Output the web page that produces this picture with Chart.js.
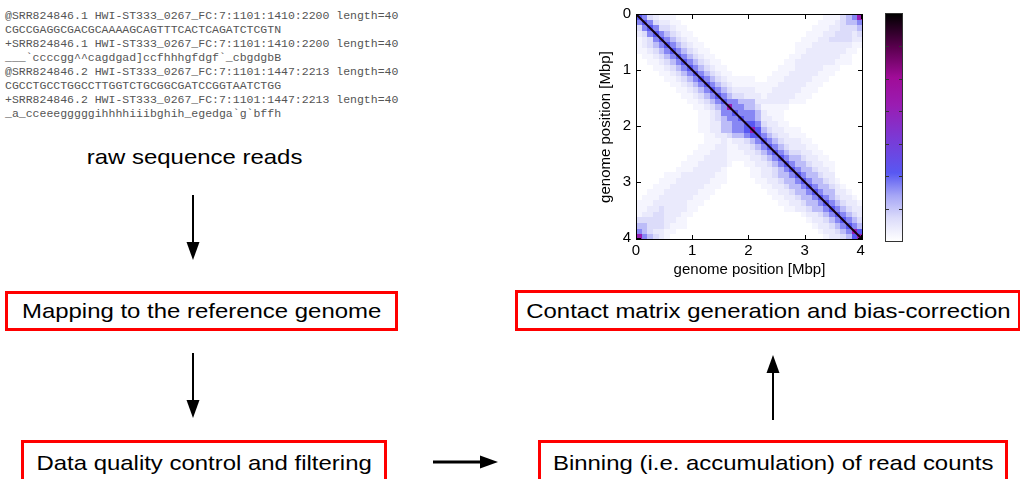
<!DOCTYPE html>
<html>
<head>
<meta charset="utf-8">
<script src="https://cdn.jsdelivr.net/npm/chart.js@4.4.1/dist/chart.umd.min.js"></script>
<style>
    html, body { margin: 0; padding: 0; background: #fff; overflow: hidden; }
    #page { position: relative; width: 1020px; height: 479px; overflow: hidden; font-family: "Liberation Sans", Arial, Helvetica, sans-serif; color: #000; }
    #reads { position: absolute; left: 5px; top: 10px; font-family: "Liberation Mono", "Courier New", monospace; font-size: 10px; line-height: 14px; color: #555; white-space: pre; transform: scaleX(1.15); transform-origin: 0 0; }
    #caption { position: absolute; left: 95px; top: 145px; width: 200px; text-align: center; font-size: 21px; line-height: 24px; }
    .step { position: absolute; box-sizing: border-box; border: 3px solid #ff0000; display: flex; align-items: center; justify-content: center; font-size: 21px; background: #fff; }
    .step span, #caption span { display: inline-block; transform: scaleX(1.14); white-space: nowrap; }
    canvas { position: absolute; }
    svg { position: absolute; left: 0; top: 0; }
</style>
</head>
<body>
<div id="page">
    <div id="reads"></div>
    <div id="caption"><span></span></div>
    <div class="step" id="step-map" style="left:5px;top:291px;width:393px;height:40px"><span></span></div>
    <div class="step" id="step-filter" style="left:21px;top:440px;width:366px;height:45px"><span></span></div>
    <div class="step" id="step-bin" style="left:538px;top:440px;width:470px;height:45px"><span></span></div>
    <div class="step" id="step-matrix" style="left:515px;top:290px;width:506px;height:41px"><span></span></div>
    <svg width="1020" height="479">
        <g stroke="#000" stroke-width="2" fill="#000">
            <line x1="193" y1="195" x2="193" y2="245"/>
            <polygon points="186.5,242 199.5,242 193,260" stroke="none"/>
            <line x1="193" y1="353" x2="193" y2="403"/>
            <polygon points="186.5,400 199.5,400 193,418" stroke="none"/>
            <line x1="433" y1="462" x2="483" y2="462" stroke-width="3"/>
            <polygon points="480,455.5 480,468.5 498,462" stroke="none"/>
            <line x1="773" y1="420" x2="773" y2="370"/>
            <polygon points="766.5,373 779.5,373 773,355" stroke="none"/>
        </g>
    </svg>
    <canvas id="chart-contacts" width="280" height="285" style="left:590px;top:0"></canvas>
    <canvas id="chart-colorbar" width="18" height="229" style="left:885px;top:13px"></canvas>
</div>
<script>
const READS = [
    '@SRR824846.1 HWI-ST333_0267_FC:7:1101:1410:2200 length=40',
    'CGCCGAGGCGACGCAAAAGCAGTTTCACTCAGATCTCGTN',
    '+SRR824846.1 HWI-ST333_0267_FC:7:1101:1410:2200 length=40',
    '___`ccccgg^^cagdgad]ccfhhhgfdgf`_cbgdgbB',
    '@SRR824846.2 HWI-ST333_0267_FC:7:1101:1447:2213 length=40',
    'CGCCTGCCTGGCCTTGGTCTGCGGCGATCCGGTAATCTGG',
    '+SRR824846.2 HWI-ST333_0267_FC:7:1101:1447:2213 length=40',
    '_a_cceeegggggihhhhiiibghih_egedga`g`bffh',
];
const CAPTION = 'raw sequence reads';
const STEPS = {
    'step-map': 'Mapping to the reference genome',
    'step-filter': 'Data quality control and filtering',
    'step-bin': 'Binning (i.e. accumulation) of read counts',
    'step-matrix': 'Contact matrix generation and bias-correction',
};

const AXIS_TITLE = 'genome position [Mbp]';
const GENOME_MBP = 4.04;
const BIN_MBP = 0.101;
const AXIS_TICKS = [0, 1, 2, 3, 4];
const DIAGONAL = [{ x: 0, y: 0 }, { x: 4.04, y: 4.04 }];

const CBAR_MAX = 7;
const CBAR_TICKS = [1, 2, 3, 4, 5, 6];
const CMAP_POS = [0, 0.1, 0.2, 0.3, 0.45, 0.6, 0.72, 0.85, 1];
const CMAP_COL = ['#ffffff', '#dcdcfa', '#a6a6f6', '#5858f2', '#7a3ad6', '#9a1cb2', '#a00c98', '#5c0050', '#000000'];

// contact level (0-7) per bin, lower triangle, row i holds columns 0..i
const LEVEL_VALUE = [0, 0.03, 0.06, 0.1, 0.16, 0.24, 0.3, 0.6];
const CONTACT_ROWS = [
    '6',
    '56',
    '356',
    '2356',
    '12356',
    '123456',
    '1123456',
    '01123456',
    '001123456',
    '0001123456',
    '00001123456',
    '000001123456',
    '0000001123456',
    '00000001123456',
    '000000001123456',
    '0000000001123456',
    '00000000001123457',
    '000000000001123556',
    '0000000000011234556',
    '00000000000112244556',
    '000000000001122445567',
    '0000000000001122344566',
    '00000000000011121223456',
    '000000000001112211223456',
    '0000000000111222111223456',
    '00000000011122221111223456',
    '000000001112222210011223456',
    '0000000111222221000011223456',
    '00000111222222110000112234456',
    '000011122222211100000112234456',
    '0001112222221110000000112234456',
    '00111222222111000000000112234456',
    '011122222211100000000000112234456',
    '1112222221110000000000000112234456',
    '11223222211000000000000000112234456',
    '122332221100000000000000000001223456',
    '3333322110000000000000000000001223456',
    '44333211100000000000000000000001223456',
    '543221100000000000000000000000001223457',
    '7543210000000000000000000000000001223467',
];

document.getElementById('reads').textContent = READS.join('\n');
document.querySelector('#caption span').textContent = CAPTION;
Object.entries(STEPS).forEach(([id, text]) => {
    document.querySelector('#' + id + ' span').textContent = text;
});

function hexToRgb(hex) {
    const n = parseInt(hex.slice(1), 16);
    return [(n >> 16) & 255, (n >> 8) & 255, n & 255];
}

function colorFor(v) {
    let k = 1;
    while (k < CMAP_POS.length - 1 && v > CMAP_POS[k]) k++;
    const t = Math.max(0, Math.min(1, (v - CMAP_POS[k - 1]) / (CMAP_POS[k] - CMAP_POS[k - 1])));
    const a = hexToRgb(CMAP_COL[k - 1]);
    const b = hexToRgb(CMAP_COL[k]);
    const c = a.map((av, idx) => Math.round(av + (b[idx] - av) * t));
    return `rgb(${c[0]},${c[1]},${c[2]})`;
}

function contactLevel(i, j) {
    // matrix is symmetric, only the lower half is stored
    const r = Math.max(i, j);
    const c = Math.min(i, j);
    const row = CONTACT_ROWS[r] || '';
    const idx = row.length - 1 - (r - c);
    return idx >= 0 ? Number(row[idx]) : 0;
}

const contactHeatmap = {
    id: 'contactHeatmap',
    beforeDatasetsDraw(chart) {
        const { ctx, chartArea, scales: { x, y } } = chart;
        ctx.save();
        ctx.fillStyle = '#fff';
        ctx.fillRect(chartArea.left, chartArea.top, chartArea.width, chartArea.height);
        const n = CONTACT_ROWS.length;
        for (let i = 0; i < n; i++) {
            for (let j = 0; j < n; j++) {
                const level = contactLevel(i, j);
                if (!level) continue;
                const x0 = Math.round(x.getPixelForValue(j * BIN_MBP));
                const x1 = Math.round(x.getPixelForValue((j + 1) * BIN_MBP));
                const ya = Math.round(y.getPixelForValue(i * BIN_MBP));
                const yb = Math.round(y.getPixelForValue((i + 1) * BIN_MBP));
                ctx.fillStyle = colorFor(LEVEL_VALUE[level]);
                ctx.fillRect(x0, Math.min(ya, yb), x1 - x0, Math.abs(yb - ya));
            }
        }
        ctx.restore();
    },
    afterDatasetsDraw(chart) {
        const { ctx, chartArea: a, scales: { x, y } } = chart;
        ctx.save();
        ctx.strokeStyle = '#000';
        ctx.lineWidth = 1;
        ctx.strokeRect(a.left + 0.5, a.top + 0.5, a.width - 1, a.height - 1);
        ctx.beginPath();
        AXIS_TICKS.forEach((v) => {
            const px = Math.round(x.getPixelForValue(v)) + 0.5;
            const py = Math.round(y.getPixelForValue(v)) + 0.5;
            ctx.moveTo(px, a.bottom); ctx.lineTo(px, a.bottom - 5);
            ctx.moveTo(px, a.top); ctx.lineTo(px, a.top + 5);
            ctx.moveTo(a.left, py); ctx.lineTo(a.left + 5, py);
            ctx.moveTo(a.right, py); ctx.lineTo(a.right - 5, py);
        });
        ctx.stroke();
        ctx.restore();
    },
};

const colorbarFrame = {
    id: 'colorbarFrame',
    afterDatasetsDraw(chart) {
        const { ctx, chartArea: a, scales: { y } } = chart;
        ctx.save();
        ctx.strokeStyle = '#333';
        ctx.lineWidth = 1;
        ctx.strokeRect(a.left - 0.5, a.top - 0.5, a.width + 1, a.height + 1);
        ctx.beginPath();
        CBAR_TICKS.forEach((v) => {
            const py = Math.round(y.getPixelForValue(v)) + 0.5;
            ctx.moveTo(a.left, py); ctx.lineTo(a.left + 3, py);
            ctx.moveTo(a.right, py); ctx.lineTo(a.right - 3, py);
        });
        ctx.stroke();
        ctx.restore();
    },
};

function gradientFill(context) {
    const { chart } = context;
    const area = chart.chartArea;
    if (!area) return '#fff';
    const g = chart.ctx.createLinearGradient(0, area.bottom, 0, area.top);
    CMAP_POS.forEach((p, k) => g.addColorStop(p, CMAP_COL[k]));
    return g;
}

Chart.defaults.font.family = '"Liberation Sans", Arial, Helvetica, sans-serif';
Chart.defaults.color = '#000';

const axisBase = {
    type: 'linear',
    min: 0,
    max: GENOME_MBP,
    grid: { display: false, drawTicks: false },
    border: { display: false },
    afterBuildTicks: (scale) => { scale.ticks = AXIS_TICKS.map((v) => ({ value: v })); },
};

new Chart(document.getElementById('chart-contacts'), {
    type: 'line',
    data: {
        datasets: [{
            data: DIAGONAL,
            borderColor: '#14000f',
            borderWidth: 2,
            pointRadius: 0,
            fill: false,
        }],
    },
    options: {
        responsive: false,
        animation: false,
        devicePixelRatio: 1,
        layout: { padding: { top: 14, right: 7, left: 0, bottom: 0 } },
        plugins: { legend: { display: false }, tooltip: { enabled: false } },
        scales: {
            x: {
                ...axisBase,
                position: 'bottom',
                afterFit: (scale) => { scale.height = 45; },
                ticks: { font: { size: 15 }, padding: 2, maxRotation: 0 },
                title: { display: true, text: AXIS_TITLE, font: { size: 15 }, padding: { top: 0, bottom: 6 } },
            },
            y: {
                ...axisBase,
                reverse: true,
                afterFit: (scale) => { scale.width = 46; },
                ticks: { font: { size: 15 }, padding: 5 },
                title: { display: true, text: AXIS_TITLE, font: { size: 15 }, padding: { top: 7, bottom: 0 } },
            },
        },
    },
    plugins: [contactHeatmap],
});

new Chart(document.getElementById('chart-colorbar'), {
    type: 'bar',
    data: {
        labels: [''],
        datasets: [{
            data: [CBAR_MAX],
            backgroundColor: gradientFill,
            borderWidth: 0,
            barPercentage: 1,
            categoryPercentage: 1,
        }],
    },
    options: {
        responsive: false,
        animation: false,
        devicePixelRatio: 1,
        layout: { padding: 1 },
        plugins: { legend: { display: false }, tooltip: { enabled: false } },
        scales: {
            x: { display: false },
            y: { display: false, min: 0, max: CBAR_MAX },
        },
    },
    plugins: [colorbarFrame],
});
</script>
</body>
</html>
